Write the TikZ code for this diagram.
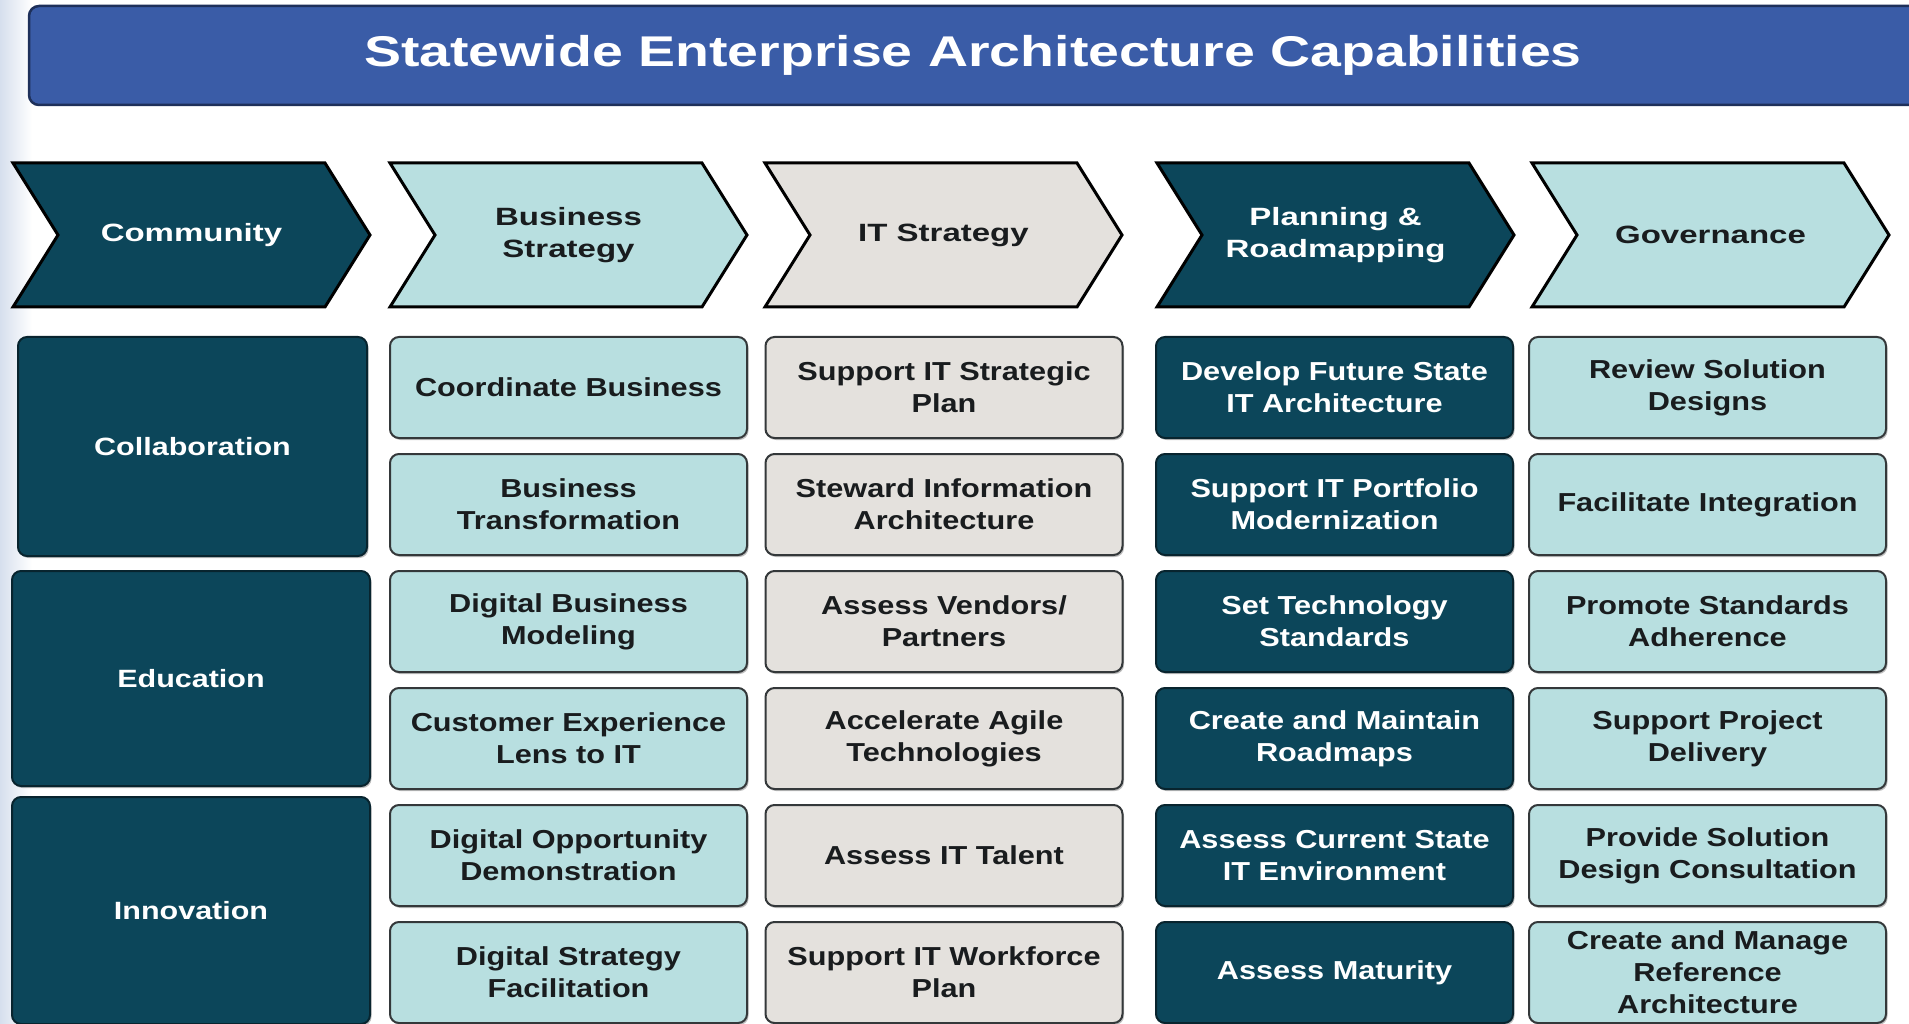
\documentclass[tikz,border=0pt]{standalone}
\usepackage{fontspec}
\usetikzlibrary{shadows}
\setmainfont{Liberation Sans}
\newfontfamily\titlef[FakeStretch=1.29]{Liberation Sans}
\newfontfamily\chevf[FakeStretch=1.32]{Liberation Sans}
\newfontfamily\rowf[FakeStretch=1.22]{Liberation Sans}
\newfontfamily\bodyf[FakeStretch=1.18]{Liberation Sans}
\definecolor{dteal}{RGB}{12,70,90}
\definecolor{dtealedge}{RGB}{8,36,46}
\definecolor{lteal}{RGB}{184,223,224}
\definecolor{lgray}{RGB}{228,225,221}
\definecolor{tblue}{RGB}{58,92,167}
\definecolor{tedge}{RGB}{30,48,90}
\definecolor{edgegray}{RGB}{52,56,58}
\definecolor{inkc}{RGB}{25,28,30}
\definecolor{stripc}{RGB}{214,223,237}
\tikzset{
  softshadow/.style={drop shadow={shadow xshift=1.5pt, shadow yshift=-2pt, opacity=0.25, fill=black}},
  cellbox/.style={draw=edgegray, line width=2pt, rounded corners=9pt, softshadow,
    minimum width=357pt, minimum height=101pt, align=center, inner sep=0pt,
    font=\bodyf\bfseries\fontsize{26}{32}\selectfont},
  lightcell/.style={cellbox, fill=lteal, text=inkc},
  graycell/.style={cellbox, fill=lgray, text=inkc},
  darkcell/.style={cellbox, fill=dteal, draw=dtealedge, text=white},
  rowbox/.style={draw=dtealedge, line width=2pt, rounded corners=9pt, fill=dteal,
    softshadow, text=white, align=center, inner sep=0pt,
    font=\rowf\bfseries\fontsize{25}{30}\selectfont},
  chevline/.style={draw=black, line width=3pt, line join=miter},
  chevtext/.style={align=center, inner sep=0pt,
    font=\chevf\bfseries\fontsize{25}{32}\selectfont},
  titletext/.style={text=white, inner sep=0pt, anchor=base,
    font=\titlef\bfseries\fontsize{43}{50}\selectfont}
}
\newcommand\mychev[5]{%
  \draw[chevline, fill=#3] (#2,163) -- ++(312,0) -- ++(45,72) -- ++(-45,72)
    -- ++(-312,0) -- ++(45,-72) -- cycle;
  \node[chevtext, text=#4] (#1) at (#2+178.5,235) {#5};
}
\begin{document}
\begin{tikzpicture}[x=1pt,y=-1pt]
\useasboundingbox (0,0) rectangle (1909,1024);
\clip (0,0) rectangle (1909,1024);
\fill[white] (0,0) rectangle (1909,1024);
\shade[left color=stripc, right color=white] (0,0) rectangle (32,1024);
% title bar
\draw[fill=tblue, draw=tedge, line width=2.5pt, rounded corners=10pt]
  (29,6) rectangle (1950,105);
\node[titletext] (title) at (973,67) {Statewide Enterprise Architecture Capabilities};
% chevrons
\mychev{community}{13}{dteal}{white}{Community}
\mychev{busstrat}{390}{lteal}{inkc}{Business\\Strategy}
\mychev{itstrat}{765}{lgray}{inkc}{IT Strategy}
\mychev{planning}{1157}{dteal}{white}{Planning \&\\Roadmapping}
\mychev{governance}{1532}{lteal}{inkc}{Governance}
% left column
\node[rowbox, minimum width=349pt, minimum height=219pt] (collab) at (192.5,446.5) {Collaboration};
\node[rowbox, minimum width=358pt, minimum height=215pt] (educ) at (191,678.5) {Education};
\node[rowbox, minimum width=358pt, minimum height=227pt] (innov) at (191,910.5) {Innovation};
% column 2
\node[lightcell] (b1) at (568.5,387.5) {Coordinate Business};
\node[lightcell] (b2) at (568.5,504.5) {Business\\Transformation};
\node[lightcell] (b3) at (568.5,621.5) {Digital Business\\Modeling};
\node[lightcell] (b4) at (568.5,738.5) {Customer Experience\\Lens to IT};
\node[lightcell] (b5) at (568.5,855.5) {Digital Opportunity\\Demonstration};
\node[lightcell] (b6) at (568.5,972.5) {Digital Strategy\\Facilitation};
% column 3
\node[graycell] (c1) at (944,387.5) {Support IT Strategic\\Plan};
\node[graycell] (c2) at (944,504.5) {Steward Information\\Architecture};
\node[graycell] (c3) at (944,621.5) {Assess Vendors/\\Partners};
\node[graycell] (c4) at (944,738.5) {Accelerate Agile\\Technologies};
\node[graycell] (c5) at (944,855.5) {Assess IT Talent};
\node[graycell] (c6) at (944,972.5) {Support IT Workforce\\Plan};
% column 4
\node[darkcell] (d1) at (1334.5,387.5) {Develop Future State\\IT Architecture};
\node[darkcell] (d2) at (1334.5,504.5) {Support IT Portfolio\\Modernization};
\node[darkcell] (d3) at (1334.5,621.5) {Set Technology\\Standards};
\node[darkcell] (d4) at (1334.5,738.5) {Create and Maintain\\Roadmaps};
\node[darkcell] (d5) at (1334.5,855.5) {Assess Current State\\IT Environment};
\node[darkcell] (d6) at (1334.5,972.5) {Assess Maturity};
% column 5
\node[lightcell] (e1) at (1707.5,387.5) {Review Solution\\Designs};
\node[lightcell] (e2) at (1707.5,504.5) {Facilitate Integration};
\node[lightcell] (e3) at (1707.5,621.5) {Promote Standards\\Adherence};
\node[lightcell] (e4) at (1707.5,738.5) {Support Project\\Delivery};
\node[lightcell] (e5) at (1707.5,855.5) {Provide Solution\\Design Consultation};
\node[lightcell] (e6) at (1707.5,972.5) {Create and Manage\\Reference\\Architecture};
\end{tikzpicture}
\end{document}
